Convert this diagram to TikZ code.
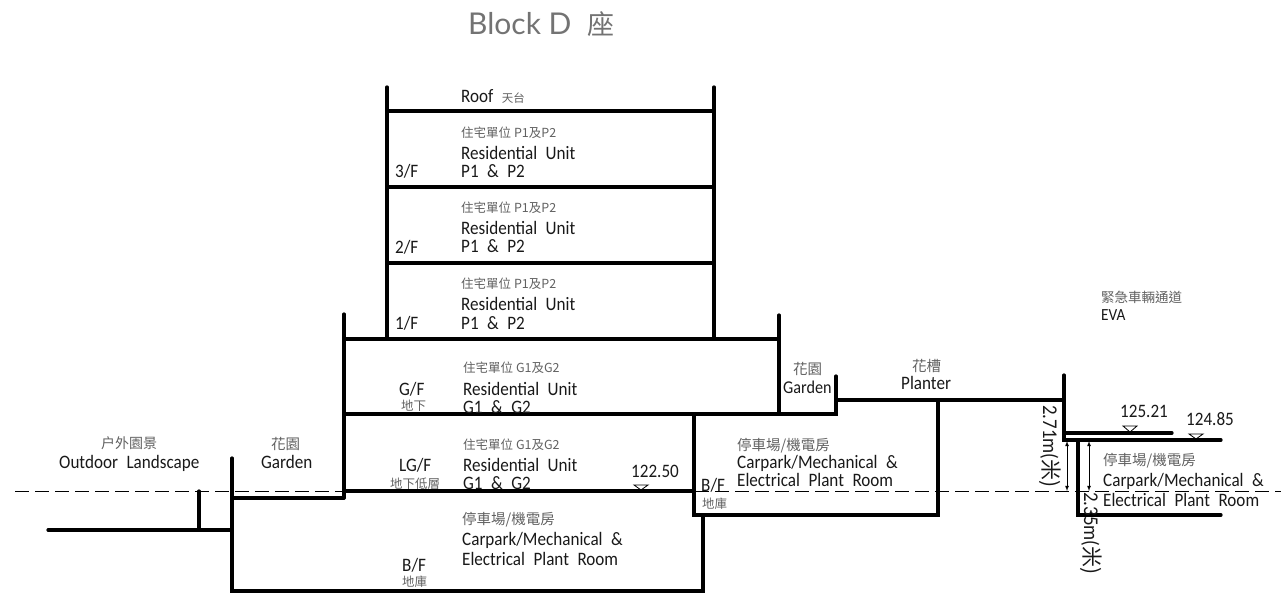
\documentclass[tikz,border=0pt]{standalone}
\usepackage{fontspec}
\setmainfont[FakeStretch=0.9,WordSpace=2.2]{Carlito}
\newfontfamily\cjk{Noto Sans CJK TC}
\newfontfamily\titlefont{Lato}
\tikzset{
	wall/.style={line width=3.2pt, line cap=round},
	cad/.style={anchor=base west, inner sep=0pt, font=\fontsize{19}{19}\selectfont, text=black!90},
	cjklab/.style={anchor=base west, inner sep=0pt, font=\cjk\fontsize{12.5}{12.5}\selectfont, text=black!62},
	cjkbig/.style={cjklab, font=\cjk\fontsize{14.5}{14.5}\selectfont},
	thinline/.style={line width=0.8pt},
}
\begin{document}
\begin{tikzpicture}[x=1pt, y=-1pt]
	\useasboundingbox (0,0) rectangle (1281,593);
	% upper floors
	\draw[wall] (387,87) -- (387,338);
	\draw[wall] (714,87) -- (714,338);
	\draw[wall] (387,111) -- (714,111);
	\draw[wall] (387,187) -- (714,187);
	\draw[wall] (387,263) -- (714,263);
	\draw[wall] (344,339) -- (779,339);
	\draw[wall] (344,314) -- (344,498);
	\draw[wall] (779,315) -- (779,414);
	\draw[wall] (344,414) -- (836,414) -- (836,376);
	\draw[wall] (836,400) -- (1064,400);
	% basement
	\draw[wall] (344,491) -- (694,491);
	\draw[wall] (694,414) -- (694,515) -- (938,515) -- (938,400);
	\draw[wall] (703,515) -- (703,591) -- (232,591) -- (232,458);
	\draw[wall] (232,498) -- (344,498);
	\draw[wall] (48,530) -- (232,530);
	\draw[wall] (199,491) -- (199,530);
	% right side
	\draw[wall] (1064,375) -- (1064,440) -- (1221,440);
	\draw[wall] (1065,433) -- (1172,433);
	\draw[wall] (1078,440) -- (1078,515) -- (1221,515);
	\draw[dash pattern=on 14pt off 6pt, line width=0.6pt] (15,491.5) -- (1281,491.5);
	\coordinate (dimA) at (1067,441);
	\coordinate (dimB) at (1067,491);
	\coordinate (dimC) at (1089,441);
	\coordinate (dimD) at (1089,491);
	\draw[<->, >=latex, thinline] (dimA) -- (dimB);
	\draw[<->, >=latex, thinline] (dimC) -- (dimD);
	\draw[thinline] (1123,426) -- (1137,426) -- (1130,432) -- cycle;
	\draw[thinline] (1189,434) -- (1203,434) -- (1196,439) -- cycle;
	\draw[thinline] (634,485) -- (648,485) -- (641,490) -- cycle;

	\node[anchor=base west, inner sep=0pt, text=black!55, font=\titlefont\fontsize{30}{30}\selectfont] (title) at (468,35) {Block D\hspace{16pt}\cjk\fontsize{27}{27}\selectfont 座};

	\node[cad] (roofT) at (461,103) {Roof \cjk\fontsize{11.5}{11.5}\selectfont\color{black!62}天台};
	\node[cjklab] (p3c) at (461,138) {住宅單位 P1及P2};
	\node[cad] (p3a) at (461,160) {Residential Unit};
	\node[cad] (p3b) at (461,178) {P1 \& P2};
	\node[cad] (f3) at (395,178) {3/F};
	\node[cjklab] (p2c) at (461,213) {住宅單位 P1及P2};
	\node[cad] (p2a) at (461,235) {Residential Unit};
	\node[cad] (p2b) at (461,253) {P1 \& P2};
	\node[cad] (f2) at (395,254) {2/F};
	\node[cjklab] (p1c) at (461,289) {住宅單位 P1及P2};
	\node[cad] (p1a) at (461,311) {Residential Unit};
	\node[cad] (p1b) at (461,329) {P1 \& P2};
	\node[cad] (f1) at (395,329) {1/F};

	\node[cjklab] (gc) at (463,372) {住宅單位 G1及G2};
	\node[cad] (ga) at (463,395) {Residential Unit};
	\node[cad] (gb) at (463,413) {G1 \& G2};
	\node[cad] (gf) at (399,395) {G/F};
	\node[cjklab] (gfc) at (401,410) {地下};
	\node[cjklab] (lc) at (463,449) {住宅單位 G1及G2};
	\node[cad] (la) at (463,471) {Residential Unit};
	\node[cad] (lb) at (463,489) {G1 \& G2};
	\node[cad] (lf) at (399,471) {LG/F};
	\node[cjklab] (lfc) at (390,488) {地下低層};
	\node[cad] (lev1) at (631,477) {122.50};

	\node[cjkbig] (bc) at (462,524) {停車場/機電房};
	\node[cad] (ba) at (462,545) {Carpark/Mechanical \&};
	\node[cad] (bb) at (462,565) {Electrical Plant Room};
	\node[cad] (bf) at (402,571) {B/F};
	\node[cjklab] (bfc) at (402,586) {地庫};

	\node[cjkbig] (cc) at (737,450) {停車場/機電房};
	\node[cad] (ca) at (737,468) {Carpark/Mechanical \&};
	\node[cad] (cb) at (737,486) {Electrical Plant Room};
	\node[cad] (cf) at (701,491) {B/F};
	\node[cjklab] (cfc) at (702,508) {地庫};

	\node[cjkbig] (ec) at (1103,465) {停車場/機電房};
	\node[cad] (ea) at (1103,486) {Carpark/Mechanical \&};
	\node[cad] (eb) at (1103,506) {Electrical Plant Room};
	\node[cad] (lev2) at (1120,417) {125.21};
	\node[cad] (lev3) at (1186,425) {124.85};

	\node[cjklab, font=\cjk\fontsize{14}{14}\selectfont] (oc) at (101,448) {户外園景};
	\node[cad] (oa) at (59,468) {Outdoor Landscape};
	\node[cjkbig] (g1c) at (271,449) {花園};
	\node[cad] (g1) at (261,468) {Garden};
	\node[cjkbig] (g2c) at (793,374) {花園};
	\node[cad, font=\fontsize{18}{18}\selectfont] (g2) at (783,393) {Garden};
	\node[cjkbig] (pc) at (912,371) {花槽};
	\node[cad] (pl) at (901,389) {Planter};
	\node[cjklab, font=\cjk\fontsize{13.5}{13.5}\selectfont] (vc) at (1101,302) {緊急車輛通道};
	\node[cad, font=\fontsize{17}{17}\selectfont] (va) at (1101,320) {EVA};

	\node[cad, rotate=-90, font=\fontsize{21}{21}\selectfont] (d1) at (1043,405) {2.71m(\cjk 米)};
	\node[cad, rotate=-90, font=\fontsize{21}{21}\selectfont] (d2) at (1084,492) {2.35m(\cjk 米)};
\end{tikzpicture}
\end{document}
